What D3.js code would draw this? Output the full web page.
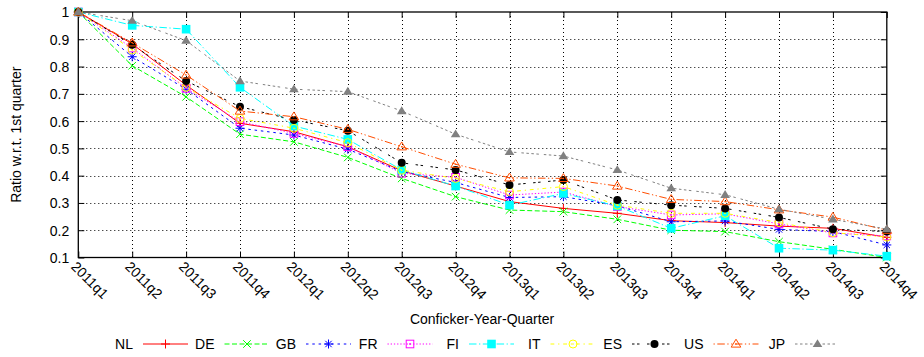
<!DOCTYPE html>
<html>
<head>
<meta charset="utf-8">
<script src="https://cdn.jsdelivr.net/npm/d3@7"></script>
<style>
html, body { margin: 0; padding: 0; background: #fff; }
svg { display: block; font-family: "Liberation Sans", Arial, Helvetica, sans-serif; }
</style>
</head>
<body>
<svg id="chart" width="924" height="357"></svg>
<script>
// ---------- data ----------
const quarters = ["2011q1","2011q2","2011q3","2011q4","2012q1","2012q2","2012q3","2012q4",
                  "2013q1","2013q2","2013q3","2013q4","2014q1","2014q2","2014q3","2014q4"];
const yTicks = [0.1, 0.2, 0.3, 0.4, 0.5, 0.6, 0.7, 0.8, 0.9, 1];
const yTickLabels = ["0.1","0.2","0.3","0.4","0.5","0.6","0.7","0.8","0.9","1"];
const seriesNames = ["NL","DE","GB","FR","FI","IT","ES","US","JP"];

const NL = [1, 0.883, 0.732, 0.592, 0.561, 0.506, 0.418, 0.362, 0.305, 0.280, 0.262, 0.235, 0.228, 0.215, 0.207, 0.174];
const DE = [1, 0.803, 0.689, 0.552, 0.524, 0.467, 0.390, 0.323, 0.274, 0.268, 0.240, 0.200, 0.195, 0.158, 0.130, 0.100];
const GB = [1, 0.836, 0.717, 0.574, 0.549, 0.497, 0.415, 0.375, 0.320, 0.323, 0.290, 0.231, 0.234, 0.203, 0.195, 0.146];
const FR = [1, 0.868, 0.720, 0.598, 0.555, 0.506, 0.409, 0.394, 0.329, 0.340, 0.287, 0.256, 0.260, 0.223, 0.190, 0.179];
const FI = [1, 0.951, 0.937, 0.724, 0.582, 0.533, 0.421, 0.362, 0.292, 0.335, 0.289, 0.207, 0.253, 0.134, 0.127, 0.105];
const IT = [1, 0.861, 0.724, 0.610, 0.574, 0.521, 0.420, 0.390, 0.341, 0.360, 0.292, 0.262, 0.262, 0.228, 0.191, 0.175];
const ES = [1, 0.880, 0.747, 0.653, 0.604, 0.565, 0.447, 0.421, 0.366, 0.384, 0.311, 0.292, 0.280, 0.247, 0.204, 0.195];
const US = [1, 0.887, 0.769, 0.637, 0.616, 0.570, 0.506, 0.442, 0.392, 0.390, 0.362, 0.313, 0.305, 0.275, 0.248, 0.200];
const JP = [1, 0.968, 0.895, 0.747, 0.717, 0.708, 0.637, 0.552, 0.487, 0.472, 0.421, 0.354, 0.330, 0.277, 0.240, 0.204];

const seriesValues = {NL, DE, GB, FR, FI, IT, ES, US, JP};

// ---------- styles ----------
const styles = {
  NL: {color: "#ff0000", dash: null,                 marker: "plus"},
  DE: {color: "#00ff00", dash: "5,2.5",              marker: "cross"},
  GB: {color: "#0000ff", dash: "2.5,3.8",            marker: "star"},
  FR: {color: "#ff00ff", dash: "1.3,1.9",            marker: "osquare"},
  FI: {color: "#00ffff", dash: "7.5,2.5,1.3,2.5",    marker: "fsquare"},
  IT: {color: "#ffff00", dash: "3.8,3.8,1.3,3.8",    marker: "ocircle"},
  ES: {color: "#000000", dash: "2.5,2.5,2.5,7.5",    marker: "fcircle"},
  US: {color: "#ff4d00", dash: "1.3,2.5,7.5,2.5,1.3,2.5", marker: "otri"},
  JP: {color: "#808080", dash: "2.5,2.5,2.5,2.5,2.5,2.5,2.5,5", marker: "ftri"}
};

const pLeft = 78.3, pRight = 886.8, pTop = 12, pBottom = 257.5;

const svg = d3.select("#chart");
const x = d3.scalePoint().domain(quarters).range([pLeft, pRight]);
const y = d3.scaleLinear().domain([0.1, 1]).range([pBottom, pTop]);

// ---------- grid ----------
const grid = svg.append("g");
grid.selectAll("line.vg").data(quarters.slice(1, -1)).join("line")
  .attr("x1", d => Math.round(x(d)) + 0.5).attr("x2", d => Math.round(x(d)) + 0.5)
  .attr("y1", pTop).attr("y2", pBottom)
  .attr("stroke", "#000").attr("stroke-width", 1).attr("stroke-dasharray", "1,3");
grid.selectAll("line.hg").data(yTicks.slice(1, -1)).join("line")
  .attr("x1", pLeft).attr("x2", pRight)
  .attr("y1", d => Math.round(y(d)) + 0.5).attr("y2", d => Math.round(y(d)) + 0.5)
  .attr("stroke", "#000").attr("stroke-width", 1).attr("stroke-dasharray", "1,3");

// ---------- axes ----------
const xAxis = svg.append("g").attr("transform", `translate(0,${pBottom})`)
  .call(d3.axisBottom(x).tickSizeInner(-6).tickSizeOuter(0).tickFormat(""));
xAxis.select(".domain").remove();

const xAxisTop = svg.append("g").attr("transform", `translate(0,${pTop})`)
  .call(d3.axisTop(x).tickSizeInner(-6).tickSizeOuter(0).tickFormat(""));
xAxisTop.select(".domain").remove();

const yAxis = svg.append("g").attr("transform", `translate(${pLeft},0)`)
  .call(d3.axisLeft(y).tickValues(yTicks).tickSizeInner(-6).tickSizeOuter(0)
        .tickFormat((d, i) => yTickLabels[i]));
yAxis.select(".domain").remove();
yAxis.selectAll("text").attr("x", -9).attr("dy", "0.35em")
  .attr("font-size", 14).attr("font-family", "Liberation Sans, Arial, sans-serif").attr("fill", "#000");

const yAxisR = svg.append("g").attr("transform", `translate(${pRight},0)`)
  .call(d3.axisRight(y).tickValues(yTicks).tickSizeInner(-6).tickSizeOuter(0).tickFormat(""));
yAxisR.select(".domain").remove();

// x tick labels, rotated
svg.append("g").selectAll("text").data(quarters).join("text")
  .attr("transform", d => `translate(${x(d) - 8},${pBottom + 10}) rotate(45)`)
  .attr("text-anchor", "start")
  .attr("font-size", 14)
  .attr("fill", "#000")
  .text(d => d);

// border
svg.append("rect").attr("x", pLeft).attr("y", pTop)
  .attr("width", pRight - pLeft).attr("height", pBottom - pTop)
  .attr("fill", "none").attr("stroke", "#000").attr("stroke-width", 1.3);

// axis titles
svg.append("text").attr("x", 482).attr("y", 324).attr("text-anchor", "middle")
  .attr("font-size", 14).attr("fill", "#000").text("Conficker-Year-Quarter");
svg.append("text").attr("transform", `translate(21,${(pTop + pBottom) / 2}) rotate(-90)`)
  .attr("text-anchor", "middle").attr("font-size", 14).attr("fill", "#000")
  .text("Ratio w.r.t. 1st quarter");

// ---------- markers ----------
function drawMarker(g, type, cx, cy, color) {
  const s = 4.5;
  const sw = 1;
  if (type === "plus") {
    g.append("path").attr("d", `M${cx - s},${cy}H${cx + s}M${cx},${cy - s}V${cy + s}`)
      .attr("stroke", color).attr("stroke-width", sw).attr("fill", "none");
  } else if (type === "cross") {
    const t = 3.8;
    g.append("path").attr("d", `M${cx - t},${cy - t}L${cx + t},${cy + t}M${cx - t},${cy + t}L${cx + t},${cy - t}`)
      .attr("stroke", color).attr("stroke-width", sw).attr("fill", "none");
  } else if (type === "star") {
    const t = 3.2;
    g.append("path").attr("d", `M${cx - s},${cy}H${cx + s}M${cx},${cy - s}V${cy + s}M${cx - t},${cy - t}L${cx + t},${cy + t}M${cx - t},${cy + t}L${cx + t},${cy - t}`)
      .attr("stroke", color).attr("stroke-width", sw).attr("fill", "none");
  } else if (type === "osquare") {
    const t = 3.8;
    g.append("rect").attr("x", cx - t).attr("y", cy - t).attr("width", 2 * t).attr("height", 2 * t)
      .attr("stroke", color).attr("stroke-width", sw).attr("fill", "none");
    g.append("rect").attr("x", cx - 0.8).attr("y", cy - 0.8).attr("width", 1.6).attr("height", 1.6)
      .attr("fill", color);
  } else if (type === "fsquare") {
    const t = 4.3;
    g.append("rect").attr("x", cx - t).attr("y", cy - t).attr("width", 2 * t).attr("height", 2 * t)
      .attr("fill", color);
  } else if (type === "ocircle") {
    g.append("circle").attr("cx", cx).attr("cy", cy).attr("r", 4)
      .attr("stroke", color).attr("stroke-width", sw).attr("fill", "none");
    g.append("circle").attr("cx", cx).attr("cy", cy).attr("r", 0.8).attr("fill", color);
  } else if (type === "fcircle") {
    g.append("circle").attr("cx", cx).attr("cy", cy).attr("r", 4).attr("fill", color);
  } else if (type === "otri") {
    const t = 4.8;
    g.append("path").attr("d", `M${cx},${cy - t}L${cx + t},${cy + t * 0.65}L${cx - t},${cy + t * 0.65}Z`)
      .attr("stroke", color).attr("stroke-width", sw).attr("fill", "none");
    g.append("circle").attr("cx", cx).attr("cy", cy).attr("r", 0.8).attr("fill", color);
  } else if (type === "ftri") {
    const t = 4.8;
    g.append("path").attr("d", `M${cx},${cy - t}L${cx + t},${cy + t * 0.65}L${cx - t},${cy + t * 0.65}Z`)
      .attr("fill", color);
  }
}

// ---------- series ----------
const line = d3.line().x((d, i) => x(quarters[i])).y(d => y(d));
const plot = svg.append("g");
seriesNames.forEach(name => {
  const st = styles[name];
  const vals = seriesValues[name];
  const g = plot.append("g");
  g.append("path").datum(vals).attr("d", line)
    .attr("fill", "none").attr("stroke", st.color).attr("stroke-width", 1)
    .attr("stroke-dasharray", st.dash);
  vals.forEach((v, i) => drawMarker(g, st.marker, x(quarters[i]), y(v), st.color));
});

// ---------- legend ----------
const lx = d3.scalePoint().domain(seriesNames).range([133, 785]);
const ly = 344;
const legend = svg.append("g");
seriesNames.forEach(name => {
  const st = styles[name];
  const px = lx(name);
  legend.append("text").attr("x", px).attr("y", ly).attr("dy", "0.35em")
    .attr("text-anchor", "end").attr("font-size", 14).attr("fill", "#000").text(name);
  const g = legend.append("g");
  g.append("line").attr("x1", px + 10).attr("x2", px + 55).attr("y1", ly).attr("y2", ly)
    .attr("stroke", st.color).attr("stroke-width", 1).attr("stroke-dasharray", st.dash);
  drawMarker(g, st.marker, px + 32.5, ly, st.color);
});
</script>
</body>
</html>
